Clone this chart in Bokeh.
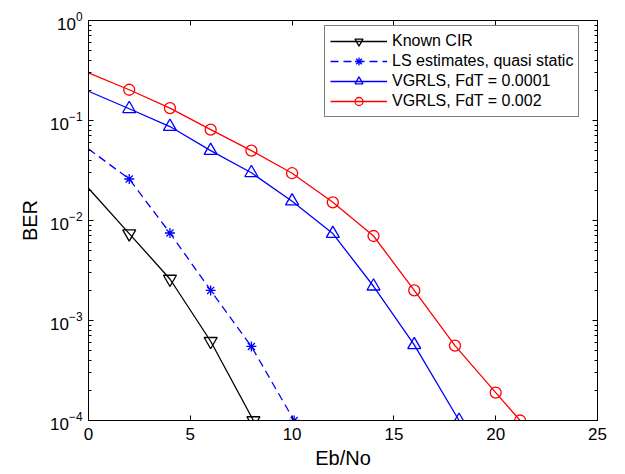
from bokeh.plotting import figure
from bokeh.models import (FixedTicker, LinearAxis, LogAxis, Legend, LegendItem, Range1d)
from bokeh.embed import file_html
from bokeh.resources import INLINE

# ---- data ----
x_known = [0, 2, 4, 6, 8.1]
ber_known = [0.021, 0.0074, 0.0026, 0.00062, 1e-4]

x_ls = [0, 2, 4, 6, 8, 10.1]
ber_ls = [0.052, 0.026, 0.0075, 0.0020, 0.00055, 1e-4]

x_v1 = [0, 2, 4, 6, 8, 10, 12, 14, 16, 18.2]
ber_v1 = [0.196, 0.131, 0.087, 0.050, 0.030, 0.0156, 0.0074, 0.0022, 0.00057, 1e-4]

x_v2 = [0, 2, 4, 6, 8, 10, 12, 14, 16, 18, 20, 21.2]
ber_v2 = [0.30, 0.203, 0.133, 0.081, 0.050, 0.0297, 0.0152, 0.0070, 0.0020, 0.00056, 0.00019, 1e-4]

x_ticks = [0, 5, 10, 15, 20, 25]
y_ticks = [1e-4, 1e-3, 1e-2, 1e-1, 1]

labels = ["Known CIR", "LS estimates, quasi static", "VGRLS, FdT = 0.0001", "VGRLS, FdT = 0.002"]

FONT = "Liberation Sans"

y_minor = [m * 10.0 ** e for e in range(-4, 0) for m in range(2, 10)]

p = figure(frame_width=509, frame_height=400, y_axis_type="log",
           x_range=Range1d(0, 25), y_range=Range1d(1e-4, 1),
           output_backend="svg", toolbar_location=None,
           min_border_left=88, min_border_right=20, min_border_top=20, min_border_bottom=50)
p.background_fill_color = "white"
p.border_fill_color = "white"
p.outline_line_color = "black"
p.outline_line_width = 1
p.xgrid.visible = False
p.ygrid.visible = False


def style_axis(ax):
    ax.axis_line_color = "black"
    ax.major_tick_line_color = "black"
    ax.minor_tick_line_color = "black"
    ax.major_tick_in = 5
    ax.major_tick_out = 0
    ax.minor_tick_in = 3
    ax.minor_tick_out = 0
    ax.major_label_text_font = FONT
    ax.major_label_text_color = "black"
    ax.major_label_text_font_size = "17px"
    ax.axis_label_text_font = FONT
    ax.axis_label_text_font_style = "normal"
    ax.axis_label_text_font_size = "20px"
    ax.axis_label_text_color = "black"


xt = FixedTicker(ticks=x_ticks, minor_ticks=[])
yt = FixedTicker(ticks=y_ticks, minor_ticks=y_minor)

xa = p.xaxis[0]
xa.ticker = xt
style_axis(xa)
xa.axis_label = "Eb/No"
xa.major_label_standoff = 7
xa.axis_label_standoff = 4

ya = p.yaxis[0]
ya.ticker = yt
style_axis(ya)
ya.axis_label = "BER"
ya.major_label_standoff = 6
ya.axis_label_standoff = 6

top = LinearAxis(ticker=xt)
style_axis(top)
top.major_label_overrides = {t: "" for t in x_ticks}
top.major_label_standoff = 0
p.add_layout(top, "above")

right = LogAxis(ticker=yt)
style_axis(right)
right.major_label_overrides = {t: "" for t in y_ticks}
right.major_label_standoff = 0
p.add_layout(right, "right")

LW = 1.3
# Known CIR
l1 = p.line(x_known, ber_known, line_color="black", line_width=LW)
m1 = p.scatter(x_known[1:], ber_known[1:], marker="inverted_triangle", size=13,
               line_color="black", fill_alpha=0, line_width=LW)
# LS
l2 = p.line(x_ls, ber_ls, line_color="blue", line_width=LW, line_dash="8 5")
m2 = p.scatter(x_ls[1:], ber_ls[1:], marker="asterisk", size=10,
               line_color="blue", line_width=LW)
# VGRLS 0.0001
l3 = p.line(x_v1, ber_v1, line_color="blue", line_width=LW)
m3 = p.scatter(x_v1[1:], ber_v1[1:], marker="triangle", size=13,
               line_color="blue", fill_alpha=0, line_width=LW)
# VGRLS 0.002
l4 = p.line(x_v2, ber_v2, line_color="red", line_width=LW)
m4 = p.scatter(x_v2[1:], ber_v2[1:], marker="circle", size=11,
               line_color="red", fill_alpha=0, line_width=LW)

legend = Legend(items=[
    LegendItem(label=labels[0], renderers=[l1, m1]),
    LegendItem(label=labels[1], renderers=[l2, m2]),
    LegendItem(label=labels[2], renderers=[l3, m3]),
    LegendItem(label=labels[3], renderers=[l4, m4]),
], location=(236, 303))
legend.label_text_font = FONT
legend.label_text_font_size = "16px"
legend.label_text_color = "black"
legend.label_height = 20
legend.glyph_height = 20
legend.glyph_width = 57
legend.label_standoff = 5
legend.spacing = 0
legend.padding = 5
legend.margin = 0
legend.border_line_color = "black"
legend.border_line_width = 1
legend.background_fill_color = "white"
legend.background_fill_alpha = 1
p.add_layout(legend, "center")

open("out.html", "w").write(file_html(p, INLINE))
